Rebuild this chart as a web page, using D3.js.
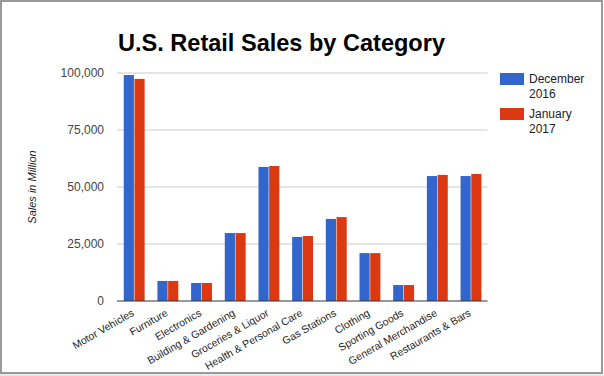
<!DOCTYPE html>
<html>
<head>
<meta charset="utf-8">
<script src="https://cdnjs.cloudflare.com/ajax/libs/d3/7.8.5/d3.min.js"></script>
<style>
  body { margin: 0; background: #fff; }
  text { font-family: Arial, "Liberation Sans", sans-serif; }
</style>
</head>
<body>
<div id="chart"></div>
<script>
const categories = ["Motor Vehicles", "Furniture", "Electronics", "Building & Gardening",
  "Groceries & Liquor", "Health & Personal Care", "Gas Stations", "Clothing",
  "Sporting Goods", "General Merchandise", "Restaurants & Bars"];
const dec2016 = [99100, 8800, 7900, 29800, 58800, 28100, 36000, 21000, 7000, 54800, 54800];
const jan2017 = [97400, 8800, 7900, 29800, 59200, 28500, 36800, 21000, 7000, 55300, 55700];
const seriesNames = ["December 2016", "January 2017"];
const legendLines = [["December", "2016"], ["January", "2017"]];
const yTicks = [0, 25000, 50000, 75000, 100000];

const width = 604;
const height = 376;
const colors = ["#3366cc", "#dc3912"];
const margin = { left: 117, right: 116.5, top: 73, bottom: 75 };

const svg = d3.select("#chart")
  .append("svg")
  .attr("width", width)
  .attr("height", height);

// frame like the sheet screenshot
svg.append("line")
  .attr("x1", 0).attr("x2", width)
  .attr("y1", 375).attr("y2", 375)
  .attr("stroke", "#d4d4d4");
svg.append("rect")
  .attr("x", 1).attr("y", 1)
  .attr("width", 601).attr("height", 372)
  .attr("fill", "#fff")
  .attr("stroke", "#9a9a9a")
  .attr("stroke-width", 2);

// scales
const x0 = d3.scaleBand()
  .domain(categories)
  .range([margin.left, width - margin.right]);

const bw = x0.bandwidth();
const x1 = d3.scaleBand()
  .domain(seriesNames)
  .range([bw * 0.2, bw * 0.82])
  .paddingInner(0.05);

const y = d3.scaleLinear()
  .domain([0, 100000])
  .range([height - margin.bottom, margin.top]);

// gridlines
svg.append("g")
  .selectAll("line")
  .data(yTicks.slice(1))
  .enter()
  .append("line")
  .attr("x1", margin.left)
  .attr("x2", width - margin.right)
  .attr("y1", d => y(d))
  .attr("y2", d => y(d))
  .attr("stroke", "#cccccc");

// y axis labels
const yAxis = d3.axisLeft(y)
  .tickValues(yTicks)
  .tickSize(0)
  .tickPadding(13)
  .tickFormat(d3.format(","));

const gy = svg.append("g")
  .attr("transform", `translate(${margin.left}, 0)`)
  .call(yAxis);
gy.select(".domain").remove();
gy.selectAll("text")
  .attr("fill", "#444")
  .style("font-size", "12px");

// bars
const rows = categories.map((c, i) => ({ cat: c, vals: [dec2016[i], jan2017[i]] }));

const groups = svg.append("g")
  .selectAll("g")
  .data(rows)
  .enter()
  .append("g")
  .attr("transform", d => `translate(${x0(d.cat)}, 0)`);

groups.selectAll("rect")
  .data(d => d.vals.map((v, k) => ({ name: seriesNames[k], v: v, k: k })))
  .enter()
  .append("rect")
  .attr("x", d => x1(d.name))
  .attr("y", d => y(d.v))
  .attr("width", x1.bandwidth())
  .attr("height", d => y(0) - y(d.v))
  .attr("fill", d => colors[d.k]);

// baseline
svg.append("line")
  .attr("x1", margin.left)
  .attr("x2", width - margin.right)
  .attr("y1", y(0))
  .attr("y2", y(0))
  .attr("stroke", "#333")
  .attr("stroke-width", 1);

// x labels
svg.append("g")
  .selectAll("text")
  .data(categories)
  .enter()
  .append("text")
  .attr("transform", d => `translate(${x0(d) + bw / 2 + 1}, ${y(0) + 14}) rotate(-30)`)
  .attr("text-anchor", "end")
  .attr("fill", "#222")
  .style("font-size", "10.5px")
  .text(d => d);

// y axis title
svg.append("text")
  .attr("transform", `translate(36, ${(y(0) + y(100000)) / 2}) rotate(-90)`)
  .attr("text-anchor", "middle")
  .attr("fill", "#222")
  .style("font-size", "11px")
  .style("font-style", "italic")
  .text("Sales in Million");

// title
svg.append("text")
  .attr("x", 118)
  .attr("y", 51)
  .attr("textLength", 327)
  .attr("lengthAdjust", "spacingAndGlyphs")
  .style("font-size", "24px")
  .style("font-weight", "bold")
  .attr("fill", "#000")
  .text("U.S. Retail Sales by Category");

// legend
const legend = svg.append("g")
  .selectAll("g")
  .data(legendLines)
  .enter()
  .append("g")
  .attr("transform", (d, i) => `translate(500, ${73 + i * 35})`);

legend.append("rect")
  .attr("width", 24)
  .attr("height", 12)
  .attr("fill", (d, i) => colors[i]);

legend.append("text")
  .attr("x", 29)
  .attr("y", 10)
  .attr("fill", "#222")
  .style("font-size", "12px")
  .selectAll("tspan")
  .data(d => d)
  .enter()
  .append("tspan")
  .attr("x", 29)
  .attr("dy", (d, i) => i === 0 ? 0 : 15)
  .text(d => d);
</script>
</body>
</html>
